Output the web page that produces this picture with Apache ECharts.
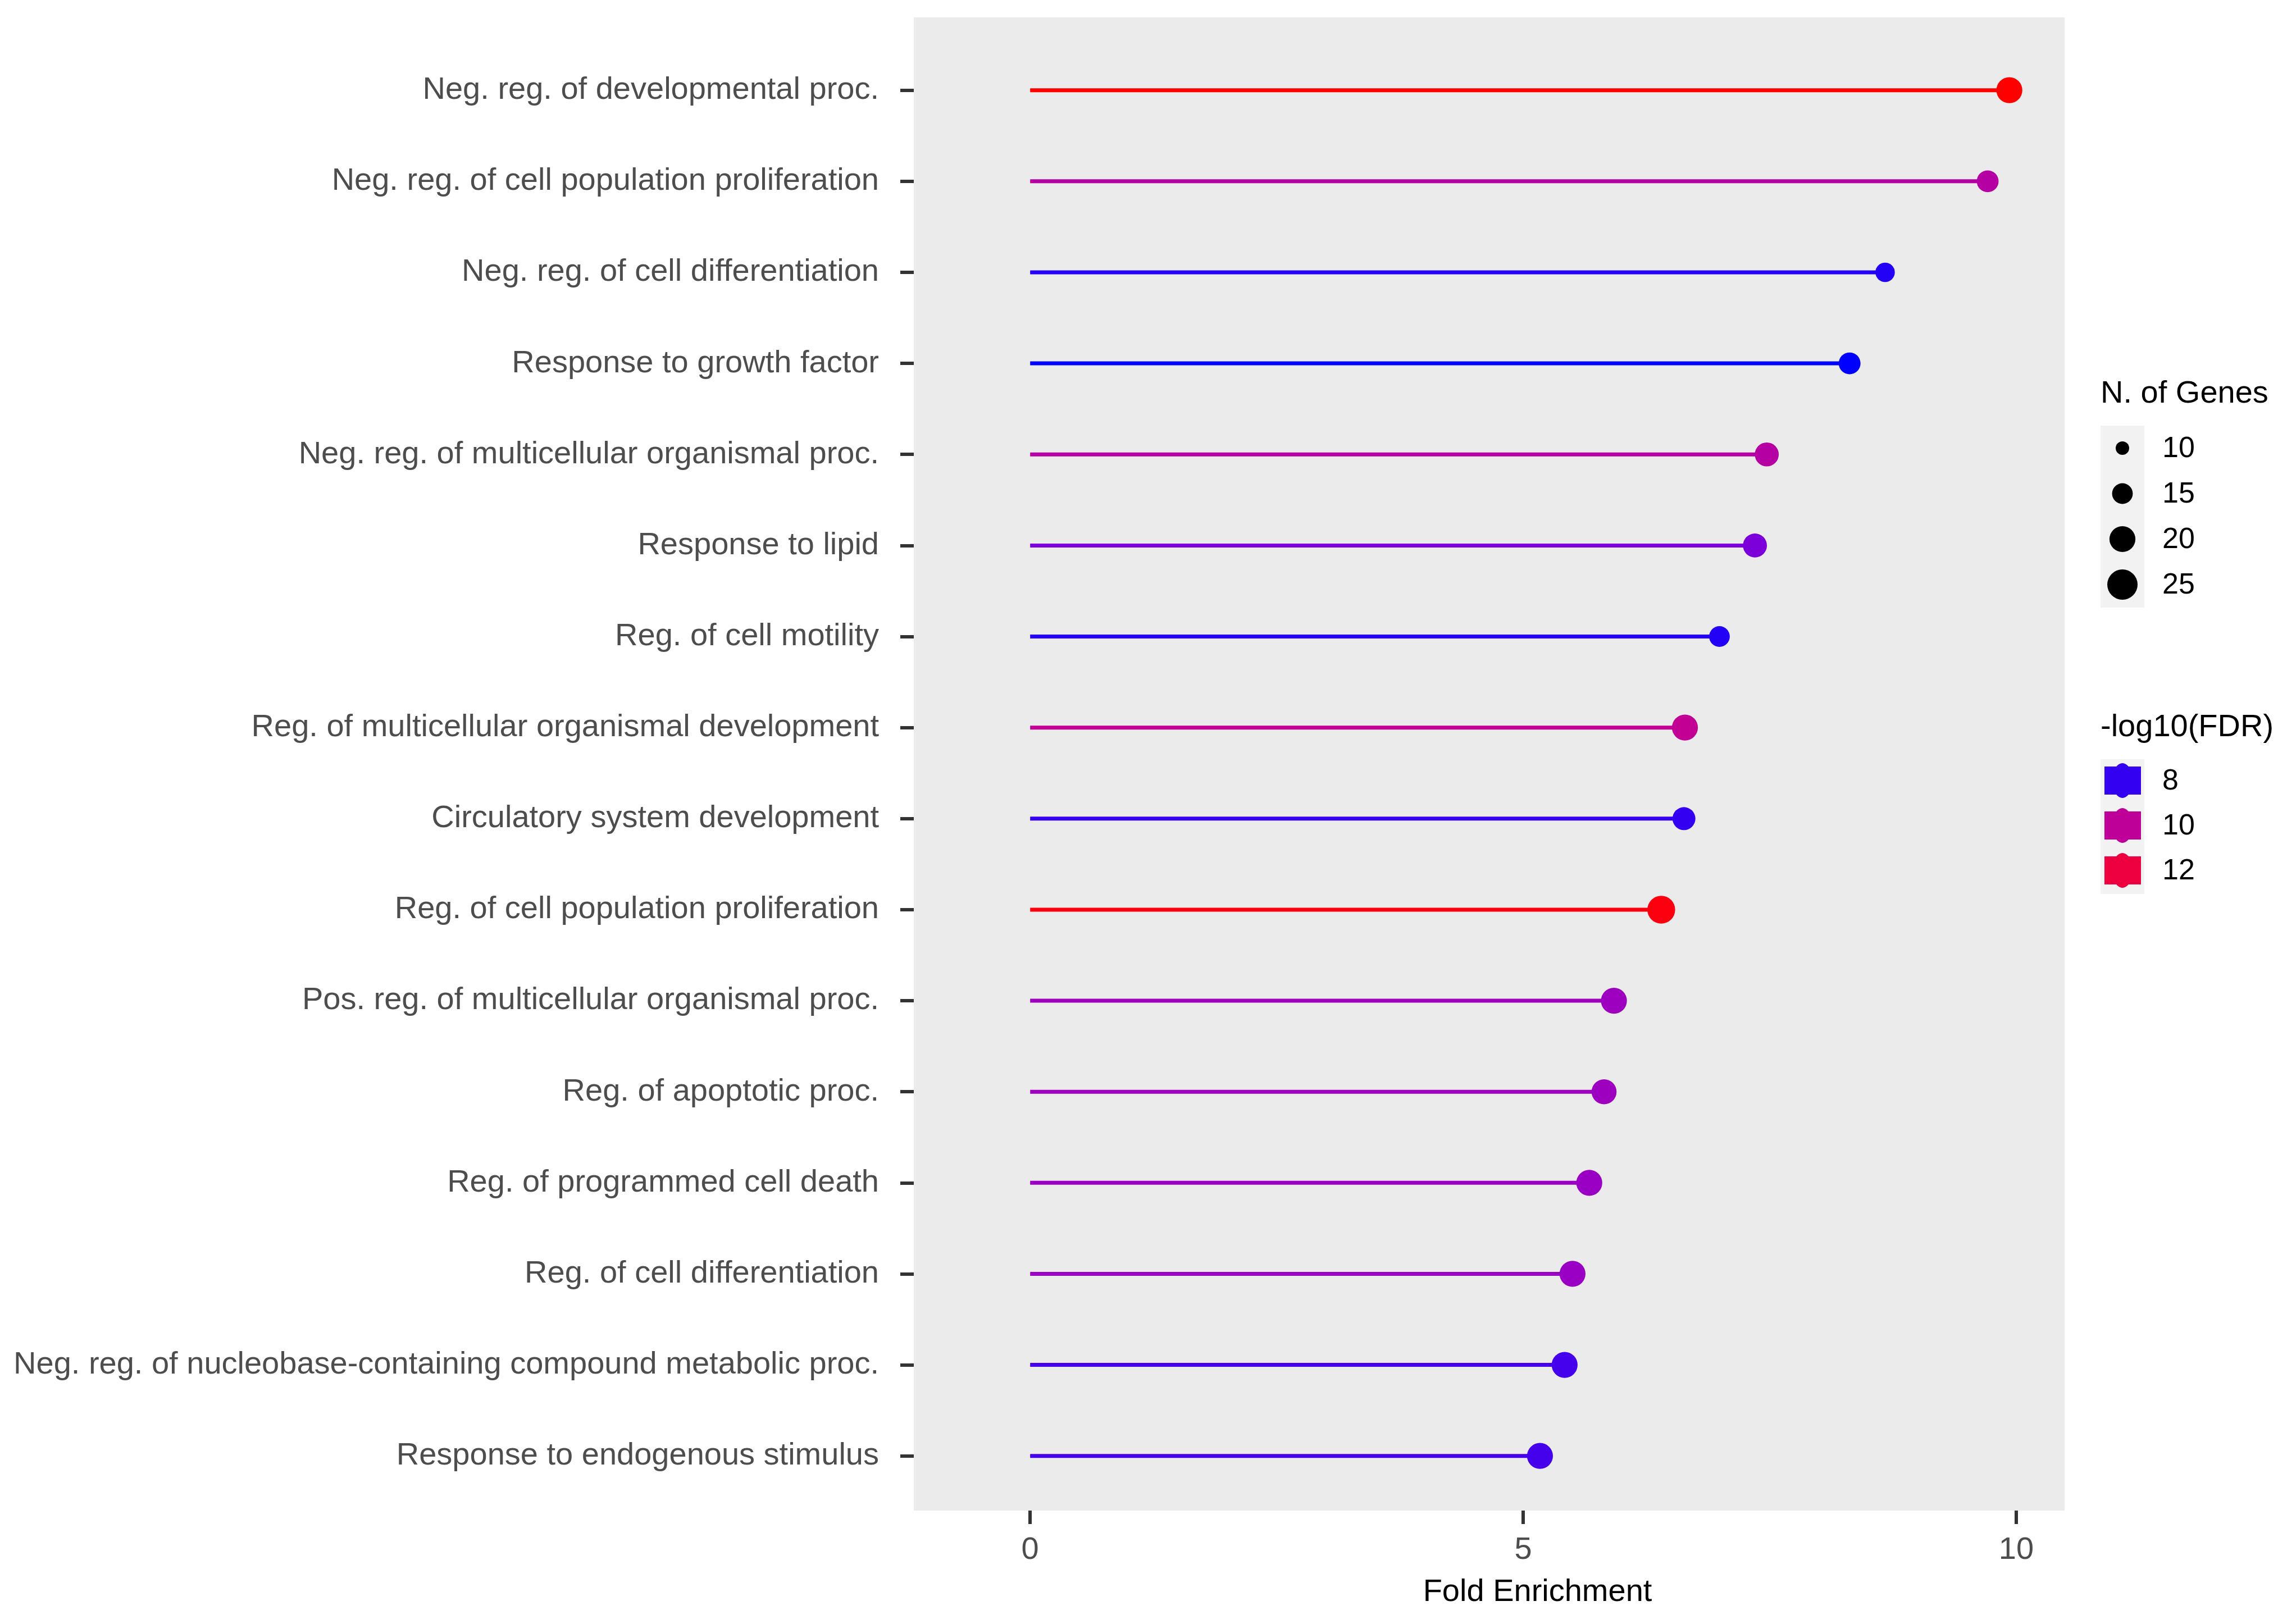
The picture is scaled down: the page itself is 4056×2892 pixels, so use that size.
<!DOCTYPE html>
<html>
<head>
<meta charset="utf-8">
<title>Fold Enrichment</title>
<script src="https://cdn.jsdelivr.net/npm/echarts@6/dist/echarts.min.js"></script>
<style>
  html, body { margin: 0; padding: 0; background: #fff; }
  #chart { width: 4056px; height: 2892px; }
</style>
</head>
<body>
<div id="chart"></div>
<script>
// 条目，从上到下
const terms = [
  'Neg. reg. of developmental proc.',
  'Neg. reg. of cell population proliferation',
  'Neg. reg. of cell differentiation',
  'Response to growth factor',
  'Neg. reg. of multicellular organismal proc.',
  'Response to lipid',
  'Reg. of cell motility',
  'Reg. of multicellular organismal development',
  'Circulatory system development',
  'Reg. of cell population proliferation',
  'Pos. reg. of multicellular organismal proc.',
  'Reg. of apoptotic proc.',
  'Reg. of programmed cell death',
  'Reg. of cell differentiation',
  'Neg. reg. of nucleobase-containing compound metabolic proc.',
  'Response to endogenous stimulus'
];
const foldEnrichment = [9.93, 9.71, 8.67, 8.31, 7.47, 7.35, 6.99, 6.64, 6.63, 6.40, 5.92, 5.82, 5.67, 5.50, 5.42, 5.17];
const log10FDR = [13.0, 9.7, 7.9, 7.7, 9.7, 8.5, 7.9, 10.1, 8.0, 12.8, 9.1, 9.1, 9.0, 9.0, 8.1, 8.1];
const nGenes = [20, 16, 14, 16, 18, 18, 15, 20, 17, 22, 20, 19, 20, 20, 20, 20];

const xTicks = [0, 5, 10];
const sizeBreaks = [10, 15, 20, 25];
const fdrBreaks = [8, 10, 12];

// 颜色：蓝 -> 红（Lab 插值近似）
const fdrMin = 7.7, fdrMax = 13.0;
const colorStops = ['#0000FF', '#7300E0', '#9A00C2', '#B500A5', '#CA0089', '#DA006C', '#E8004F', '#F40031', '#FF0000'];

function sizeFor(n) {
  return Math.sqrt(Math.max(156 * n - 984, 100));
}

function colorFor(v) {
  let t = (v - fdrMin) / (fdrMax - fdrMin);
  t = Math.min(1, Math.max(0, t)) * (colorStops.length - 1);
  const i = Math.min(Math.floor(t), colorStops.length - 2);
  const f = t - i;
  const a = parseInt(colorStops[i].slice(1), 16), b = parseInt(colorStops[i + 1].slice(1), 16);
  const mix = (sh) => Math.round(((a >> sh) & 255) * (1 - f) + ((b >> sh) & 255) * f);
  return 'rgb(' + mix(16) + ',' + mix(8) + ',' + mix(0) + ')';
}

const idx = terms.map((_, i) => i);
const rows = terms.map((t, i) => [foldEnrichment[i], i, log10FDR[i], nGenes[i]]);

const chart = echarts.init(document.getElementById('chart'));

// 图例（手动绘制，模仿 ggplot）
const legendEls = [];
const font = '"Liberation Sans", Arial, sans-serif';
legendEls.push({ type: 'text', left: 3740, top: 674, style: { text: 'N. of Genes', font: '56px ' + font, fill: '#000' } });
legendEls.push({ type: 'rect', shape: { x: 3740, y: 758, width: 78, height: 324 }, style: { fill: '#f2f2f2' } });
sizeBreaks.forEach((n, k) => {
  const cy = 798 + k * 81;
  legendEls.push({ type: 'circle', shape: { cx: 3779, cy: cy, r: sizeFor(n) / 2 }, style: { fill: '#000' } });
  legendEls.push({ type: 'text', x: 3850, y: cy + 2, style: { text: String(n), font: '52px ' + font, fill: '#000', verticalAlign: 'middle' } });
});
legendEls.push({ type: 'text', left: 3740, top: 1268, style: { text: '-log10(FDR)', font: '56px ' + font, fill: '#000' } });
legendEls.push({ type: 'rect', shape: { x: 3740, y: 1352, width: 78, height: 240 }, style: { fill: '#f2f2f2' } });
fdrBreaks.forEach((v, k) => {
  const cy = 1390 + k * 80;
  const c = colorFor(v);
  legendEls.push({ type: 'rect', shape: { x: 3747, y: cy - 25, width: 65, height: 50 }, style: { fill: c } });
  legendEls.push({ type: 'ellipse', shape: { cx: 3779, cy: cy, rx: 18, ry: 31 }, style: { fill: c } });
  legendEls.push({ type: 'text', x: 3850, y: cy + 2, style: { text: String(v), font: '52px ' + font, fill: '#000', verticalAlign: 'middle' } });
});

const option = {
  backgroundColor: '#ffffff',
  animation: false,
  textStyle: { fontFamily: font },
  grid: {
    left: 1627, right: 380, top: 31, bottom: 202,
    show: true, backgroundColor: '#ebebeb', borderWidth: 0
  },
  xAxis: {
    type: 'value',
    min: -1.18, max: 10.49,
    name: 'Fold Enrichment',
    nameLocation: 'middle',
    nameGap: 118,
    nameTextStyle: { fontSize: 56, color: '#000', padding: [0, 0, 0, 172] },
    axisLine: { show: false, onZero: false },
    axisTick: { show: true, length: 24, lineStyle: { color: '#333', width: 6 }, customValues: xTicks },
    axisLabel: { fontSize: 56, color: '#4d4d4d', margin: 43, customValues: xTicks },
    splitLine: { show: false }
  },
  yAxis: {
    type: 'value',
    inverse: true,
    min: -0.8, max: 15.6,
    axisLine: { show: false, onZero: false },
    axisTick: { show: true, length: 24, lineStyle: { color: '#333', width: 6 }, customValues: idx },
    axisLabel: {
      fontSize: 56, color: '#4d4d4d', margin: 62, customValues: idx,
      padding: [10, 0, 0, 0],
      formatter: (v) => terms[Math.round(v)] || ''
    },
    splitLine: { show: false }
  },
  visualMap: {
    show: false,
    type: 'continuous',
    min: fdrMin, max: fdrMax,
    dimension: 2,
    seriesIndex: [0, 1],
    inRange: { color: colorStops }
  },
  series: [
    {
      type: 'custom',
      data: rows,
      encode: { x: 0, y: 1 },
      renderItem: function (params, api) {
        const p0 = api.coord([0, api.value(1)]);
        const p1 = api.coord([api.value(0), api.value(1)]);
        return {
          type: 'line',
          shape: { x1: p0[0], y1: p0[1], x2: p1[0], y2: p1[1] },
          style: { stroke: api.visual('color'), lineWidth: 7 }
        };
      },
      z: 2
    },
    {
      type: 'scatter',
      data: rows,
      symbol: 'circle',
      symbolSize: (d) => sizeFor(d[3]),
      itemStyle: { opacity: 1 },
      z: 3
    }
  ],
  graphic: legendEls
};

chart.setOption(option);
</script>
</body>
</html>
